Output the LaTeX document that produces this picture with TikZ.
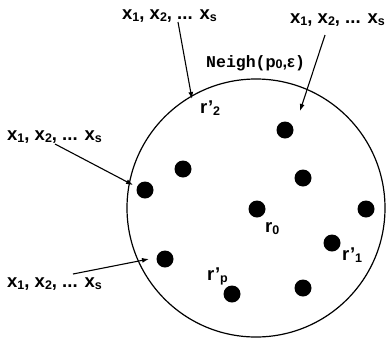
\documentclass[tikz,border=0pt]{standalone}
\usepackage{fontspec}
\setmainfont{Liberation Sans}
\newfontfamily\monofont{Liberation Mono}
\usetikzlibrary{arrows.meta}
\newcommand{\sbs}[1]{\raisebox{-0.12em}{\fontsize{12.5}{12.5}\selectfont #1}}
\begin{document}
\begin{tikzpicture}[x=1pt,y=-1pt,
  dot/.style={circle,fill=black,inner sep=0pt,minimum size=17pt},
  lbl/.style={font=\fontsize{18.5}{18.5}\selectfont\bfseries,inner sep=0pt,anchor=base west},
  arr/.style={-{Latex[length=7pt,width=5pt]},line width=1.1pt}]
\useasboundingbox (0,0) rectangle (391,338);
\node[circle,draw,line width=1.2pt,minimum size=258pt,inner sep=0pt] (nb) at (256,208) {};
% dots
\node[dot] (d1) at (145,190) {};
\node[dot] (d2) at (183,169) {};
\node[dot] (d3) at (285,130) {};
\node[dot] (d4) at (303,178) {};
\node[dot] (d5) at (257,209) {};
\node[dot] (d6) at (366,209) {};
\node[dot] (d7) at (332,243) {};
\node[dot] (d8) at (165,259) {};
\node[dot] (d9) at (232,294) {};
\node[dot] (d10) at (303,288) {};
% point labels
\node[lbl] (lr2) at (200,113) {r’\sbs{2}};
\node[lbl] (lr0) at (265,232) {r\sbs{0}};
\node[lbl] (lr1) at (342,260) {r’\sbs{1}};
\node[lbl] (lrp) at (207,280) {r’\sbs{p}};
\node[lbl,font=\fontsize{16.5}{16.5}\selectfont\bfseries] (neigh) at (206,67) {{\monofont Neigh(}p\sbs{0},ε{\monofont )}};
% set labels
\node[lbl] (t1) at (122,19) {x\sbs{1}, x\sbs{2}, ... x\sbs{s}};
\node[lbl] (t2) at (290,23) {x\sbs{1}, x\sbs{2}, ... x\sbs{s}};
\node[lbl] (t3) at (7,140) {x\sbs{1}, x\sbs{2}, ... x\sbs{s}};
\node[lbl] (t4) at (7,287) {x\sbs{1}, x\sbs{2}, ... x\sbs{s}};
% arrow ends
\coordinate (s1) at (178,22); \coordinate (e1) at (192,99);
\coordinate (s2) at (325,35); \coordinate (e2) at (300,111);
\coordinate (s3) at (55,144); \coordinate (e3) at (133,185);
\coordinate (s4) at (73,274); \coordinate (e4) at (149,259);
\draw[arr] (s1) -- (e1);
\draw[arr] (s2) -- (e2);
\draw[arr] (s3) -- (e3);
\draw[arr] (s4) -- (e4);
\end{tikzpicture}
\end{document}
